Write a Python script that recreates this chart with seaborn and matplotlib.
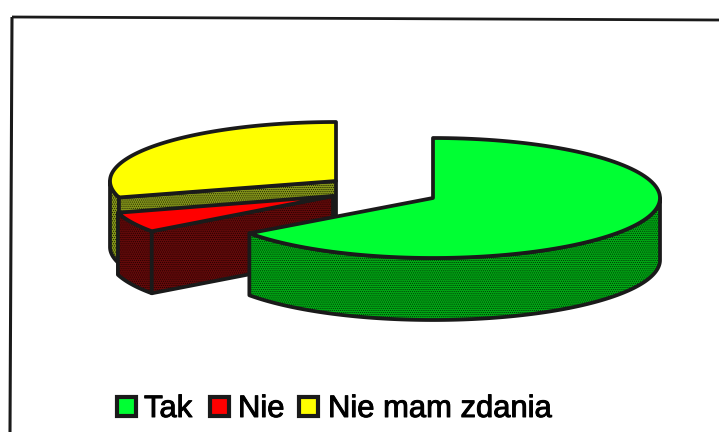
import numpy as np
import pandas as pd
import matplotlib
matplotlib.use("Agg")
import matplotlib.pyplot as plt
import matplotlib as mpl
import matplotlib.patheffects as pe
from matplotlib.patches import Polygon, Rectangle
import seaborn as sns

categories = ["Tak", "Nie", "Nie mam zdania"]
shares = [65.0, 5.5, 29.5]

top_colors = ["#00FF33", "#FF0000", "#FFFF00"]
side_colors = ["#00A814", "#640A0A", "#86961A"]
hatch_colors = ["#002A04", "#1E0000", "#161C00"]

# layout: apex, radii and thickness of each exploded slice, in pixels
apex = {"Tak": (433, 198), "Nie": (333, 196), "Nie mam zdania": (336, 181)}
rad = {"Tak": (227, 60), "Nie": (224, 60), "Nie mam zdania": (226, 59)}
depth = {"Tak": 62, "Nie": 62, "Nie mam zdania": 66}

sns.set_theme(style="white")
plt.rcParams["font.family"] = ["Liberation Sans", "DejaVu Sans"]
mpl.rcParams["hatch.linewidth"] = 0.5

df = pd.DataFrame({"cat": categories, "share": shares})
df["t1"] = df["share"].cumsum().shift(fill_value=0) * 3.6
df["t2"] = df["share"].cumsum() * 3.6

fig = plt.figure(figsize=(7.19, 4.32), dpi=100, facecolor="white")
ax = fig.add_axes([0, 0, 1, 1])
ax.set_xlim(0, 719)
ax.set_ylim(432, 0)
ax.axis("off")

LW = 2.7
TEX = "........"


def arc(cat, a, b, dz=0.0):
    cx, cy = apex[cat]
    rx, ry = rad[cat]
    t = np.radians(np.linspace(a, b, 120))
    return np.c_[cx + rx * np.sin(t), cy - ry * np.cos(t) + dz]


def poly(pts, fc, hatch=None, hc="k", z=1):
    if hatch:
        ax.add_patch(Polygon(pts, closed=True, fc=fc, ec=hc, hatch=hatch, lw=0, zorder=z))
        ax.add_patch(Polygon(pts, closed=True, fc="none", ec="k", lw=LW, joinstyle="round", zorder=z))
    else:
        ax.add_patch(Polygon(pts, closed=True, fc=fc, ec="k", lw=LW, joinstyle="round", zorder=z))


def outer(cat, a, b, fc, hc, z):
    upper = arc(cat, a, b)
    lower = arc(cat, a, b, depth[cat])[::-1]
    poly(np.vstack([upper, lower]), fc, TEX, hc, z)


def cut(cat, t, fc, hc, z):
    p = arc(cat, t, t)[0]
    cx, cy = apex[cat]
    d = depth[cat]
    poly(np.array([[cx, cy], p, p + [0, d], [cx, cy + d]]), fc, TEX, hc, z)


def top(cat, a, b, fc, z):
    cx, cy = apex[cat]
    poly(np.vstack([[cx, cy], arc(cat, a, b)]), fc, None, "k", z)


rows = {r.cat: r for r in df.itertuples()}

# yellow slice: back, drawn first
r = rows["Nie mam zdania"]
outer(r.cat, r.t1, 270, side_colors[2], hatch_colors[2], 1)
cut(r.cat, r.t1, side_colors[2], hatch_colors[2], 2)
top(r.cat, r.t1, r.t2, top_colors[2], 3)

# red slice
r = rows["Nie"]
outer(r.cat, r.t1, r.t2, side_colors[1], hatch_colors[1], 4)
cut(r.cat, r.t1, side_colors[1], hatch_colors[1], 5)
top(r.cat, r.t1, r.t2, top_colors[1], 6)

# green slice: front
r = rows["Tak"]
outer(r.cat, 90, r.t2, side_colors[0], hatch_colors[0], 7)
top(r.cat, r.t1, r.t2, top_colors[0], 8)

# frame of the scanned chart: only top and left edges are in the picture
ax.plot([12, 719], [17, 20], color="k", lw=2.0, zorder=9, solid_capstyle="butt")
ax.plot([12, 10], [17, 432], color="k", lw=2.2, zorder=9, solid_capstyle="butt")

# legend
key_x = [117, 210, 299]
text_x = [144, 238, 328]
for c, kx, tx, col in zip(categories, key_x, text_x, top_colors):
    ax.add_patch(Rectangle((kx, 397), 19, 19, fc=col, ec="k", lw=3.0, zorder=9))
    ax.text(tx, 417, c, fontsize=22.3, color="#000000", ha="left", va="baseline", zorder=9,
            path_effects=[pe.withStroke(linewidth=0.7, foreground="#000000")])

fig.savefig("out.png", dpi=100, facecolor="white")
